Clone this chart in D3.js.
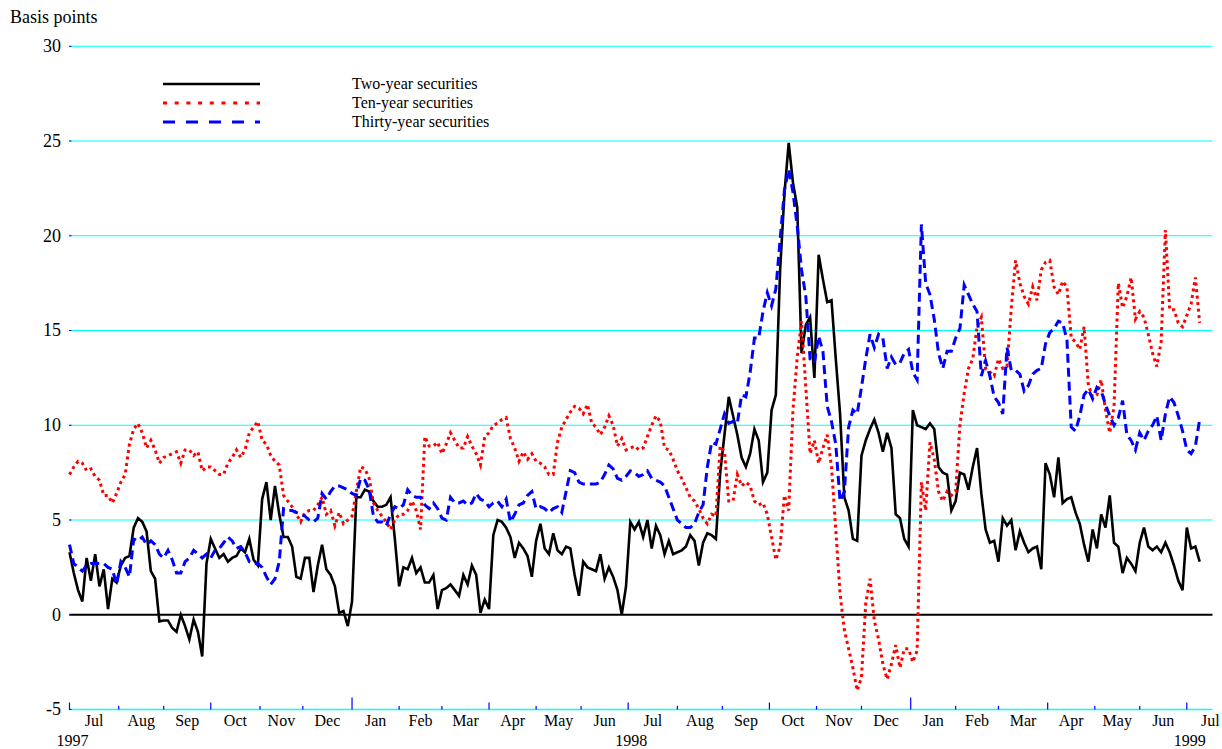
<!DOCTYPE html>
<html>
<head>
<meta charset="utf-8">
<script src="https://cdn.jsdelivr.net/npm/d3@7"></script>
<style>
body { margin: 0; background: #fff; }
text { font-family: "Liberation Serif", "Times New Roman", serif; fill: #000; }
</style>
</head>
<body>
<svg width="1222" height="749"></svg>
<script>
// readings every 2nd business day, starting 1 Jul 1997 (basis points)
const startDay = new Date(1997, 6, 1);
const stepDays = 2;

const twoYear = [
  3.3, 2.2, 1.3, 0.7, 3.0, 1.8, 3.2, 1.5, 2.4, 0.3,
  1.9, 1.7, 2.6, 3.0, 3.1, 4.6, 5.1, 4.9, 4.4, 2.3,
  1.9, -0.35, -0.3, -0.3, -0.7, -0.9, 0.0, -0.6, -1.3, -0.25,
  -0.9, -2.2, 2.7, 4.0, 3.5, 3.0, 3.2, 2.8, 3.0, 3.1,
  3.5, 3.3, 4.0, 2.9, 2.6, 6.1, 7.0, 5.0, 6.8, 5.3,
  4.1, 4.1, 3.6, 2.0, 1.9, 3.0, 3.0, 1.2, 2.6, 3.7,
  2.4, 2.1, 1.5, 0.1, 0.2, -0.6, 0.7, 6.2, 6.2, 6.6,
  6.5, 6.0, 5.7, 5.7, 5.8, 6.2, 4.0, 1.5, 2.5, 2.4,
  3.0, 2.2, 2.5, 1.7, 1.7, 2.1, 0.3, 1.3, 1.4, 1.6,
  1.3, 1.0, 2.1, 1.6, 2.6, 2.1, 0.1, 0.8, 0.3, 4.2,
  5.0, 4.9, 4.6, 4.1, 3.0, 3.8, 3.5, 3.1, 2.0, 3.9,
  4.8, 3.5, 3.2, 4.3, 3.4, 3.2, 3.6, 3.5, 2.1, 1.0,
  2.8, 2.5, 2.4, 2.3, 3.2, 1.9, 2.5, 2.0, 1.3, 0.0,
  1.5, 4.9, 4.5, 4.9, 4.1, 5.0, 3.5, 4.7, 4.2, 3.2,
  3.9, 3.2, 3.3, 3.4, 3.6, 4.2, 3.9, 2.6, 3.8, 4.3,
  4.2, 4.0, 7.5, 9.5, 11.5, 10.5, 9.5, 8.3, 7.8, 8.5,
  9.8, 9.2, 7.0, 7.5, 10.8, 11.6, 18.2, 22.2, 24.9, 22.8,
  21.5, 13.8, 15.3, 15.7, 12.5, 19.0, 17.7, 16.5, 16.6, 13.5,
  10.6, 6.2, 5.5, 4.0, 3.9, 8.4, 9.2, 9.8, 10.3, 9.6,
  8.6, 9.6, 8.8, 5.3, 5.1, 4.0, 3.6, 10.8, 10.0, 9.9,
  9.8, 10.1, 9.8, 7.8, 7.5, 7.4, 5.5, 6.0, 7.5, 7.4,
  6.6, 7.8, 8.8, 6.4, 4.5, 3.8, 3.9, 2.8, 5.1, 4.7,
  5.0, 3.4, 4.4, 3.8, 3.3, 3.5, 3.6, 2.4, 8.0, 7.4,
  6.2, 8.3, 5.9, 6.1, 6.2, 5.4, 4.8, 3.7, 2.8, 4.5,
  3.5, 5.3, 4.6, 6.3, 3.8, 3.6, 2.2, 3.0, 2.7, 2.3,
  3.8, 4.6, 3.6, 3.4, 3.6, 3.3, 3.8, 3.3, 2.6, 1.8,
  1.3, 4.6, 3.5, 3.6, 2.8
];

const tenYear = [
  7.4, 7.8, 8.1, 8.0, 7.6, 7.7, 7.3, 7.1, 6.3, 6.3,
  5.9, 6.4, 7.0, 7.4, 9.0, 9.8, 10.1, 9.6, 8.8, 9.2,
  8.7, 8.0, 8.3, 8.4, 8.5, 8.6, 8.0, 8.7, 8.7, 8.4,
  8.6, 7.6, 7.8, 7.8, 7.6, 7.4, 7.4, 8.0, 8.3, 8.7,
  8.3, 8.7, 9.6, 9.9, 10.2, 9.2, 9.0, 8.4, 8.1, 7.9,
  6.3, 6.0, 5.7, 5.3, 4.9, 5.4, 5.5, 5.5, 5.8, 6.2,
  5.3, 5.5, 4.7, 5.4, 4.8, 5.0, 5.2, 6.5, 7.8, 7.7,
  7.2, 5.9, 5.5, 5.2, 4.9, 4.5, 5.0, 5.3, 5.3, 5.5,
  6.0, 5.5, 4.5, 9.4, 8.9, 8.9, 9.1, 8.5, 9.0, 9.6,
  9.2, 8.8, 8.8, 9.4, 8.9, 8.5, 7.9, 9.4, 9.6, 10.0,
  10.1, 10.3, 10.4, 9.3, 8.8, 8.1, 8.6, 8.2, 8.5, 8.1,
  8.0, 7.8, 7.4, 7.4, 9.1, 9.9, 10.3, 10.7, 11.0, 10.9,
  10.6, 11.1, 10.1, 9.9, 9.5, 9.9, 10.5, 10.0, 8.9, 9.3,
  8.7, 8.8, 8.9, 8.7, 8.8, 9.4, 10.0, 10.5, 10.2, 8.8,
  8.7, 8.2, 7.6, 7.2, 6.7, 6.2, 6.0, 5.6, 5.1, 4.8,
  5.3, 5.2, 8.9, 8.6, 6.0, 6.0, 7.4, 6.8, 7.0, 6.8,
  6.0, 5.8, 5.9, 5.3, 4.1, 2.9, 3.6, 6.3, 5.5, 10.8,
  13.6, 15.5, 12.0, 8.5, 9.2, 8.0, 8.8, 9.5, 7.8, 4.5,
  1.1, -0.8, -1.8, -2.8, -4.0, -3.3, 0.6, 1.9, -0.3, -1.3,
  -2.6, -3.4, -2.6, -1.6, -2.8, -1.8, -1.8, -2.5, -1.9, 7.0,
  5.5, 9.1, 8.2, 6.5, 6.0, 6.5, 6.3, 6.5, 10.0, 11.7,
  13.0, 13.5, 15.2, 15.7, 13.0, 12.8, 12.6, 13.5, 13.0, 13.1,
  16.2, 18.7, 17.5, 16.8, 16.4, 17.3, 16.6, 18.2, 18.6, 18.7,
  17.3, 16.9, 17.6, 17.3, 14.6, 14.4, 14.0, 15.2, 12.1, 11.5,
  11.6, 12.4, 10.8, 9.6, 11.0, 17.5, 16.2, 16.8, 17.8, 15.6,
  16.0, 15.7, 14.8, 13.8, 13.1, 14.4, 20.3, 16.1, 16.1, 15.4,
  15.2, 15.8, 16.4, 17.8, 15.4
];

const thirtyYear = [
  3.7, 2.7, 2.5, 2.3, 2.6, 2.7, 2.7, 2.7, 2.7, 2.5,
  2.4, 1.6, 2.8, 2.5, 2.0, 4.0, 3.9, 4.1, 3.7, 3.9,
  3.7, 3.2, 3.0, 3.4, 2.9, 2.2, 2.2, 2.8, 3.0, 3.4,
  3.2, 3.0, 3.2, 3.0, 3.4, 3.5, 3.8, 4.1, 3.9, 3.5,
  3.6, 3.3, 2.8, 2.7, 2.7, 2.5, 2.0, 1.6, 1.9, 2.8,
  5.6, 5.5, 5.5, 5.4, 5.3, 5.2, 5.0, 4.9, 5.1, 6.4,
  6.1, 6.5, 6.8, 6.8, 6.7, 6.6, 6.4, 6.3, 7.2, 7.1,
  6.6, 5.2, 4.9, 4.9, 4.7, 5.3, 5.7, 5.6, 5.8, 6.6,
  6.3, 6.2, 6.2, 5.8, 5.6, 5.9, 5.6, 5.1, 5.0, 6.2,
  5.9, 5.9, 6.0, 5.8, 5.9, 6.4, 6.1, 6.0, 5.7, 5.9,
  6.0, 5.7, 6.1, 4.9, 5.3, 5.8, 5.9, 6.3, 6.5, 5.6,
  5.7, 5.6, 5.4, 5.6, 5.7, 5.4, 6.5, 7.6, 7.5, 7.0,
  6.9, 6.9, 6.9, 6.9, 7.0, 7.4, 7.9, 7.7, 7.2, 7.1,
  7.3, 7.6, 7.5, 7.3, 7.4, 7.6, 7.2, 7.1, 7.0, 6.8,
  6.2, 5.6, 5.0, 4.8, 4.6, 4.6, 4.8, 5.4, 5.8, 7.8,
  9.1, 9.0, 9.8, 10.6, 10.1, 10.2, 10.1, 11.6, 11.5, 12.8,
  14.6, 14.6, 16.0, 17.0, 16.3, 17.2, 19.8, 22.4, 23.5, 22.3,
  20.5, 18.2, 16.8, 13.5, 13.3, 14.7, 13.9, 11.0, 10.2, 9.0,
  6.0, 6.5, 9.9, 10.8, 10.6, 12.0, 13.5, 14.8, 14.1, 14.8,
  14.6, 13.0, 13.6, 13.2, 13.3, 13.8, 14.0, 12.8, 12.4, 20.6,
  17.5, 16.9, 15.6, 13.8, 13.0, 13.9, 13.9, 14.6, 15.1, 17.4,
  16.9, 16.4, 16.0, 12.6, 13.4, 12.6, 11.5, 11.2, 10.6, 14.1,
  12.9, 12.9, 12.7, 11.8, 12.1, 12.7, 12.9, 13.0, 14.3, 14.9,
  15.1, 15.5, 15.4, 14.5, 9.9, 9.7, 10.5, 11.6, 11.9, 11.4,
  12.0, 11.8, 11.1, 10.5, 10.0, 10.4, 11.3, 9.5, 9.2, 8.7,
  9.6, 9.2, 9.7, 10.0, 10.5, 9.2, 10.6, 11.5, 11.2, 10.5,
  9.7, 8.7, 8.5, 8.9, 10.3
];

const yTicks = [-5, 0, 5, 10, 15, 20, 25, 30];
const monthNames = ["Jan","Feb","Mar","Apr","May","Jun","Jul","Aug","Sep","Oct","Nov","Dec"];
const seriesNames = ["Two-year securities", "Ten-year securities", "Thirty-year securities"];

var svg = d3.select("svg"),
    width = +svg.attr("width"),
    height = +svg.attr("height");

// the time axis counts business days (Mon-Fri), not calendar days
var days = d3.timeDay.range(startDay, new Date(1999, 8, 1))
    .filter(function(d) { return d.getDay() != 0 && d.getDay() != 6; });
function dayIndex(date) { return d3.bisectLeft(days, date); }

var x = d3.scaleLinear().domain([0, 534]).range([69.5, 1212.5]);
var y = d3.scaleLinear().domain([-5, 30]).range([709.5, 46.3]);

var left = x.range()[0], right = x.range()[1];

// grid
svg.append("g").selectAll("line")
  .data(yTicks.filter(function(d) { return d != 0; }))
  .enter().append("line")
    .attr("x1", left).attr("x2", right)
    .attr("y1", function(d) { return y(d); })
    .attr("y2", function(d) { return y(d); })
    .attr("stroke", "#00ffff")
    .attr("stroke-width", function(d) { return d == -5 ? 1.6 : 1.1; });

svg.append("line")
    .attr("x1", left).attr("x2", right)
    .attr("y1", y(0)).attr("y2", y(0))
    .attr("stroke", "#000").attr("stroke-width", 2.2);

// y ticks + labels
svg.append("g").selectAll("line")
  .data(yTicks)
  .enter().append("line")
    .attr("x1", left - 0.5).attr("x2", left + 2)
    .attr("y1", function(d) { return y(d); })
    .attr("y2", function(d) { return y(d); })
    .attr("stroke", "#0000ff").attr("stroke-width", 1);

svg.append("g").selectAll("text")
  .data(yTicks)
  .enter().append("text")
    .attr("x", 61)
    .attr("y", function(d) { return y(d); })
    .attr("dy", "0.33em")
    .attr("text-anchor", "end")
    .style("font-size", "18px")
    .text(function(d) { return d; });

svg.append("text")
    .attr("x", 10).attr("y", 23)
    .style("font-size", "18px")
    .text("Basis points");

// month ticks and labels (label sits mid-month)
var months = d3.timeMonth.range(new Date(1997, 6, 1), new Date(1999, 8, 1));
var monthPos = months.map(function(m) { return dayIndex(m); });

svg.append("g").selectAll("line")
  .data(months.slice(0, -1))
  .enter().append("line")
    .attr("x1", function(d, i) { return x(monthPos[i]); })
    .attr("x2", function(d, i) { return x(monthPos[i]); })
    .attr("y1", y(-5))
    .attr("y2", function(d) {
      var m = d.getMonth();
      return y(-5) - (m == 0 ? 12 : (m % 3 == 0 ? 7 : 3.5));
    })
    .attr("stroke", "#0000ff").attr("stroke-width", 1.2);

svg.append("g").selectAll("text")
  .data(months.slice(0, -1))
  .enter().append("text")
    .attr("x", function(d, i) { return x((monthPos[i] + monthPos[i + 1]) / 2); })
    .attr("y", 726)
    .attr("text-anchor", "middle")
    .style("font-size", "16px")
    .text(function(d) { return monthNames[d.getMonth()]; });

svg.append("g").selectAll("text")
  .data(months.filter(function(m) { return m.getMonth() == 6 && m.getFullYear() <= 1999; }))
  .enter().append("text")
    .attr("x", function(d) { return x(dayIndex(d)) + 3; })
    .attr("y", 746)
    .attr("text-anchor", "middle")
    .style("font-size", "16px")
    .text(function(d) { return d.getFullYear(); });

// series
var styles = [
  { data: twoYear,    color: "#000000", width: 2.6, dash: null,    legendDash: null },
  { data: tenYear,    color: "#ff0000", width: 3,   dash: "3,3.5", legendDash: "4,7.7" },
  { data: thirtyYear, color: "#0000ff", width: 3,   dash: "9,5",   legendDash: "12,11" }
];

var line = d3.line()
    .x(function(d, i) { return x(i * stepDays); })
    .y(function(d) { return y(d); });

svg.append("g").selectAll("path")
  .data(styles)
  .enter().append("path")
    .attr("d", function(s) { return line(s.data); })
    .attr("fill", "none")
    .attr("stroke", function(s) { return s.color; })
    .attr("stroke-width", function(s) { return s.width; })
    .attr("stroke-linejoin", "miter")
    .attr("stroke-dasharray", function(s) { return s.dash; });

// legend
var legend = svg.append("g").selectAll("g")
  .data(styles)
  .enter().append("g")
    .attr("transform", function(d, i) { return "translate(0," + (84 + i * 19) + ")"; });

legend.append("line")
    .attr("x1", 163).attr("x2", 260)
    .attr("stroke", function(s) { return s.color; })
    .attr("stroke-width", function(s) { return s.width; })
    .attr("stroke-dasharray", function(s) { return s.legendDash; });

legend.append("text")
    .attr("x", 352).attr("y", 5)
    .style("font-size", "16px")
    .text(function(d, i) { return seriesNames[i]; });
</script>
</body>
</html>
